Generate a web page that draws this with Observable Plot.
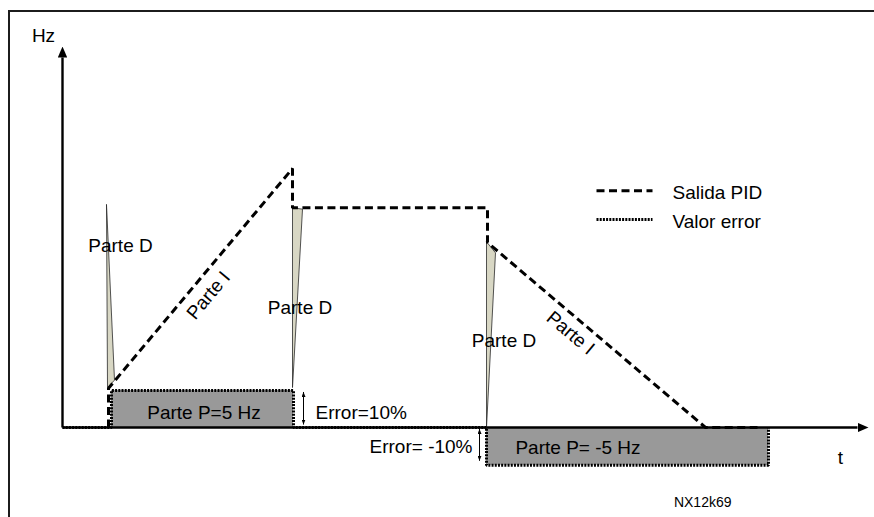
<!DOCTYPE html>
<html><head><meta charset="utf-8">
<script src="https://cdn.jsdelivr.net/npm/d3@7"></script>
<script src="https://cdn.jsdelivr.net/npm/@observablehq/plot@0.6"></script>
<style>
html,body{margin:0;padding:0;background:#fff;overflow:hidden}
#wrap{position:relative;width:874px;height:517px;overflow:hidden}
#wrap svg{position:absolute;left:0;top:0}
#frame{position:absolute;left:8px;top:10px;width:900px;height:600px;border-top:2px solid #1c1c1c;border-left:2px solid #1c1c1c;pointer-events:none}
</style></head><body>
<div id="wrap"><div id="frame"></div></div>
<script>
// ---- data (time in arbitrary units, output in Hz) ----
const pidT  = [4.6, 4.6, 23.0, 23.0, 42.5, 42.5, 64.3, 69.5];
const pidHz = [0, 5.3, 35.0, 29.7, 29.7, 25.0, 0, 0];
const errT  = [0, 4.9, 4.9, 23.1, 23.1, 42.4, 42.4, 70.6, 70.6];
const errHz = [0, 0, 5.0, 5.0, 0, 0, -5.1, -5.1, 0];
const spike1T = [4.4, 5.2, 4.5, 4.4];
const spike1Hz = [30.1, 6.4, 5.4, 30.1];
const spike2T = [23.0, 24.0, 23.0, 23.0];
const spike2Hz = [29.7, 29.5, 5.4, 29.7];
const spike3T = [42.4, 43.3, 42.4, 42.4];
const spike3Hz = [25.1, 23.6, 0, 25.1];
const axisEnd = {t: 79.5, hz: 50};
const legendLabels = ["Salida PID", "Valor error"];
const labelD = "Parte D";
const labelI = "Parte I";
const labelP = ["Parte P=5 Hz", "Parte P= -5 Hz"];
const labelErr = ["Error=10%", "Error= -10%"];
const axisLabels = ["Hz", "t"];
const codeLabel = "NX12k69";

// ---- derived tables ----
const pid = pidT.map((t, i) => ({t, hz: pidHz[i]}));
const err = errT.map((t, i) => ({t, hz: errHz[i]}));
const spikes = [[spike1T, spike1Hz], [spike2T, spike2Hz], [spike3T, spike3Hz]]
  .flatMap(([T, H], k) => T.map((t, i) => ({t, hz: H[i], k})));
const boxes = [
  {x1: errT[2], x2: errT[3], y1: 0, y2: errHz[2]},
  {x1: errT[6], x2: errT[7], y1: errHz[6], y2: 0}
];
const errArrows = [
  {x: 24.1, y1: 0.4, y2: errHz[2] - 0.2},
  {x: 41.7, y1: -0.2, y2: errHz[6] + 0.6}
];
const xAxisPts = [{t: 0, hz: 0}, {t: axisEnd.t, hz: 0}];
const yAxisPts = [{t: 0, hz: 0}, {t: 0, hz: axisEnd.hz}];
const mid = (a, b) => ({t: (a.t + b.t) / 2, hz: (a.hz + b.hz) / 2});
const font = "Liberation Sans, Arial, Helvetica, sans-serif";
const F = 19;

const labels = [
  {t: spike1T[0], hz: spike1Hz[0], text: labelD, dx: 14, dy: 41, r: 0, a: "middle"},
  {t: spike2T[0], hz: spike2Hz[0], text: labelD, dx: 7.5, dy: 100, r: 0, a: "middle"},
  {t: spike3T[0], hz: spike3Hz[0], text: labelD, dx: 17.5, dy: 99, r: 0, a: "middle"},
  {...mid(pid[1], pid[2]), text: labelI, dx: 8, dy: 17, r: -50, a: "middle"},
  {...mid(pid[5], pid[6]), text: labelI, dx: -26, dy: -2, r: 40, a: "middle"},
  {t: (boxes[0].x1 + boxes[0].x2) / 2, hz: (boxes[0].y1 + boxes[0].y2) / 2, text: labelP[0], dx: 1.5, dy: 4, r: 0, a: "middle"},
  {t: (boxes[1].x1 + boxes[1].x2) / 2, hz: (boxes[1].y1 + boxes[1].y2) / 2, text: labelP[1], dx: -49.5, dy: 2, r: 0, a: "middle"},
  {t: errArrows[0].x, hz: errHz[2] / 2, text: labelErr[0], dx: 12, dy: 3.5, r: 0, a: "start"},
  {t: errArrows[1].x, hz: errHz[6] / 2, text: labelErr[1], dx: -7, dy: 1, r: 0, a: "end"},
  {t: 0, hz: axisEnd.hz, text: axisLabels[0], dx: -19, dy: -22, r: 0, a: "middle"},
  {t: axisEnd.t, hz: 0, text: axisLabels[1], dx: -17, dy: 30, r: 0, a: "middle"}
];

// legend layout (in chart units)
const legT1 = 53.4, legT2 = 59.0, legTx = 61.0, legHz = [32.0, 28.1];

const svg = Plot.plot({
  width: 874, height: 517,
  marginTop: 0, marginRight: 0, marginBottom: 0, marginLeft: 0,
  x: {type: "linear", domain: [0, 80], range: [62, 862], axis: null},
  y: {type: "linear", domain: [0, 50], range: [427, 57], axis: null},
  style: {fontFamily: font, background: "transparent", overflow: "visible"},
  marks: [
    Plot.rect(boxes, {x1: "x1", x2: "x2", y1: "y1", y2: "y2", fill: "#999999"}),
    Plot.line(xAxisPts, {x: "t", y: "hz", stroke: "black", strokeWidth: 2.4, strokeLinecap: "butt", ariaDescription: "axis-arrow"}),
    Plot.line(yAxisPts, {x: "t", y: "hz", stroke: "black", strokeWidth: 2.4, strokeLinecap: "butt", ariaDescription: "axis-arrow"}),
    Plot.line(spikes, {x: "t", y: "hz", z: "k", fill: "#d8d7c4", stroke: "#2a2a2a", strokeWidth: 0.8, strokeLinejoin: "miter"}),
    Plot.line(err, {x: "t", y: "hz", stroke: "black", strokeWidth: 3, strokeDasharray: "2,1.2", strokeLinecap: "butt", strokeLinejoin: "miter"}),
    Plot.line(pid, {x: "t", y: "hz", stroke: "black", strokeWidth: 3, strokeDasharray: "8,4.5", strokeLinecap: "butt", strokeLinejoin: "miter"}),
    Plot.link(errArrows, {x1: "x", x2: "x", y1: "y1", y2: "y2", stroke: "black", strokeWidth: 1, ariaDescription: "err-arrow"}),
    // legend
    Plot.line([{t: legT1, hz: legHz[0]}, {t: legT2, hz: legHz[0]}], {x: "t", y: "hz", stroke: "black", strokeWidth: 3, strokeDasharray: "8,4.5", strokeLinecap: "butt"}),
    Plot.line([{t: legT1, hz: legHz[1]}, {t: legT2, hz: legHz[1]}], {x: "t", y: "hz", stroke: "black", strokeWidth: 3, strokeDasharray: "2,1.2", strokeLinecap: "butt"}),
    Plot.text(legendLabels, {x: () => legTx, y: (d, i) => legHz[i], text: d => d, textAnchor: "start", fontSize: F, dy: 2}),
    // annotations
    ...labels.map(d =>
      Plot.text([d], {x: "t", y: "hz", text: "text", rotate: d.r, textAnchor: d.a, fontSize: F, dx: d.dx, dy: d.dy})),
    Plot.text([codeLabel], {x: () => errT[7], y: () => errHz[7], text: d => d, textAnchor: "end", fontSize: 14, dx: -37, dy: 37})
  ]
});
document.getElementById("wrap").appendChild(svg);

// filled arrowheads
const defs = d3.select(svg).insert("defs", ":first-child");
defs.append("marker").attr("id", "headBig").attr("viewBox", "0 0 11 9.5")
  .attr("refX", 0).attr("refY", 4.75).attr("markerWidth", 11).attr("markerHeight", 9.5)
  .attr("markerUnits", "userSpaceOnUse").attr("orient", "auto")
  .append("path").attr("d", "M0,0L11,4.75L0,9.5Z").attr("fill", "black");
defs.append("marker").attr("id", "headSmall").attr("viewBox", "0 0 5 4")
  .attr("refX", 5).attr("refY", 2).attr("markerWidth", 5).attr("markerHeight", 4)
  .attr("markerUnits", "userSpaceOnUse").attr("orient", "auto-start-reverse")
  .append("path").attr("d", "M0,0L5,2L0,4Z").attr("fill", "black");
d3.select(svg).selectAll('g[aria-description="axis-arrow"] path').attr("marker-end", "url(#headBig)");
d3.select(svg).selectAll('g[aria-description="err-arrow"] path')
  .attr("marker-end", "url(#headSmall)").attr("marker-start", "url(#headSmall)");
</script>
</body></html>
